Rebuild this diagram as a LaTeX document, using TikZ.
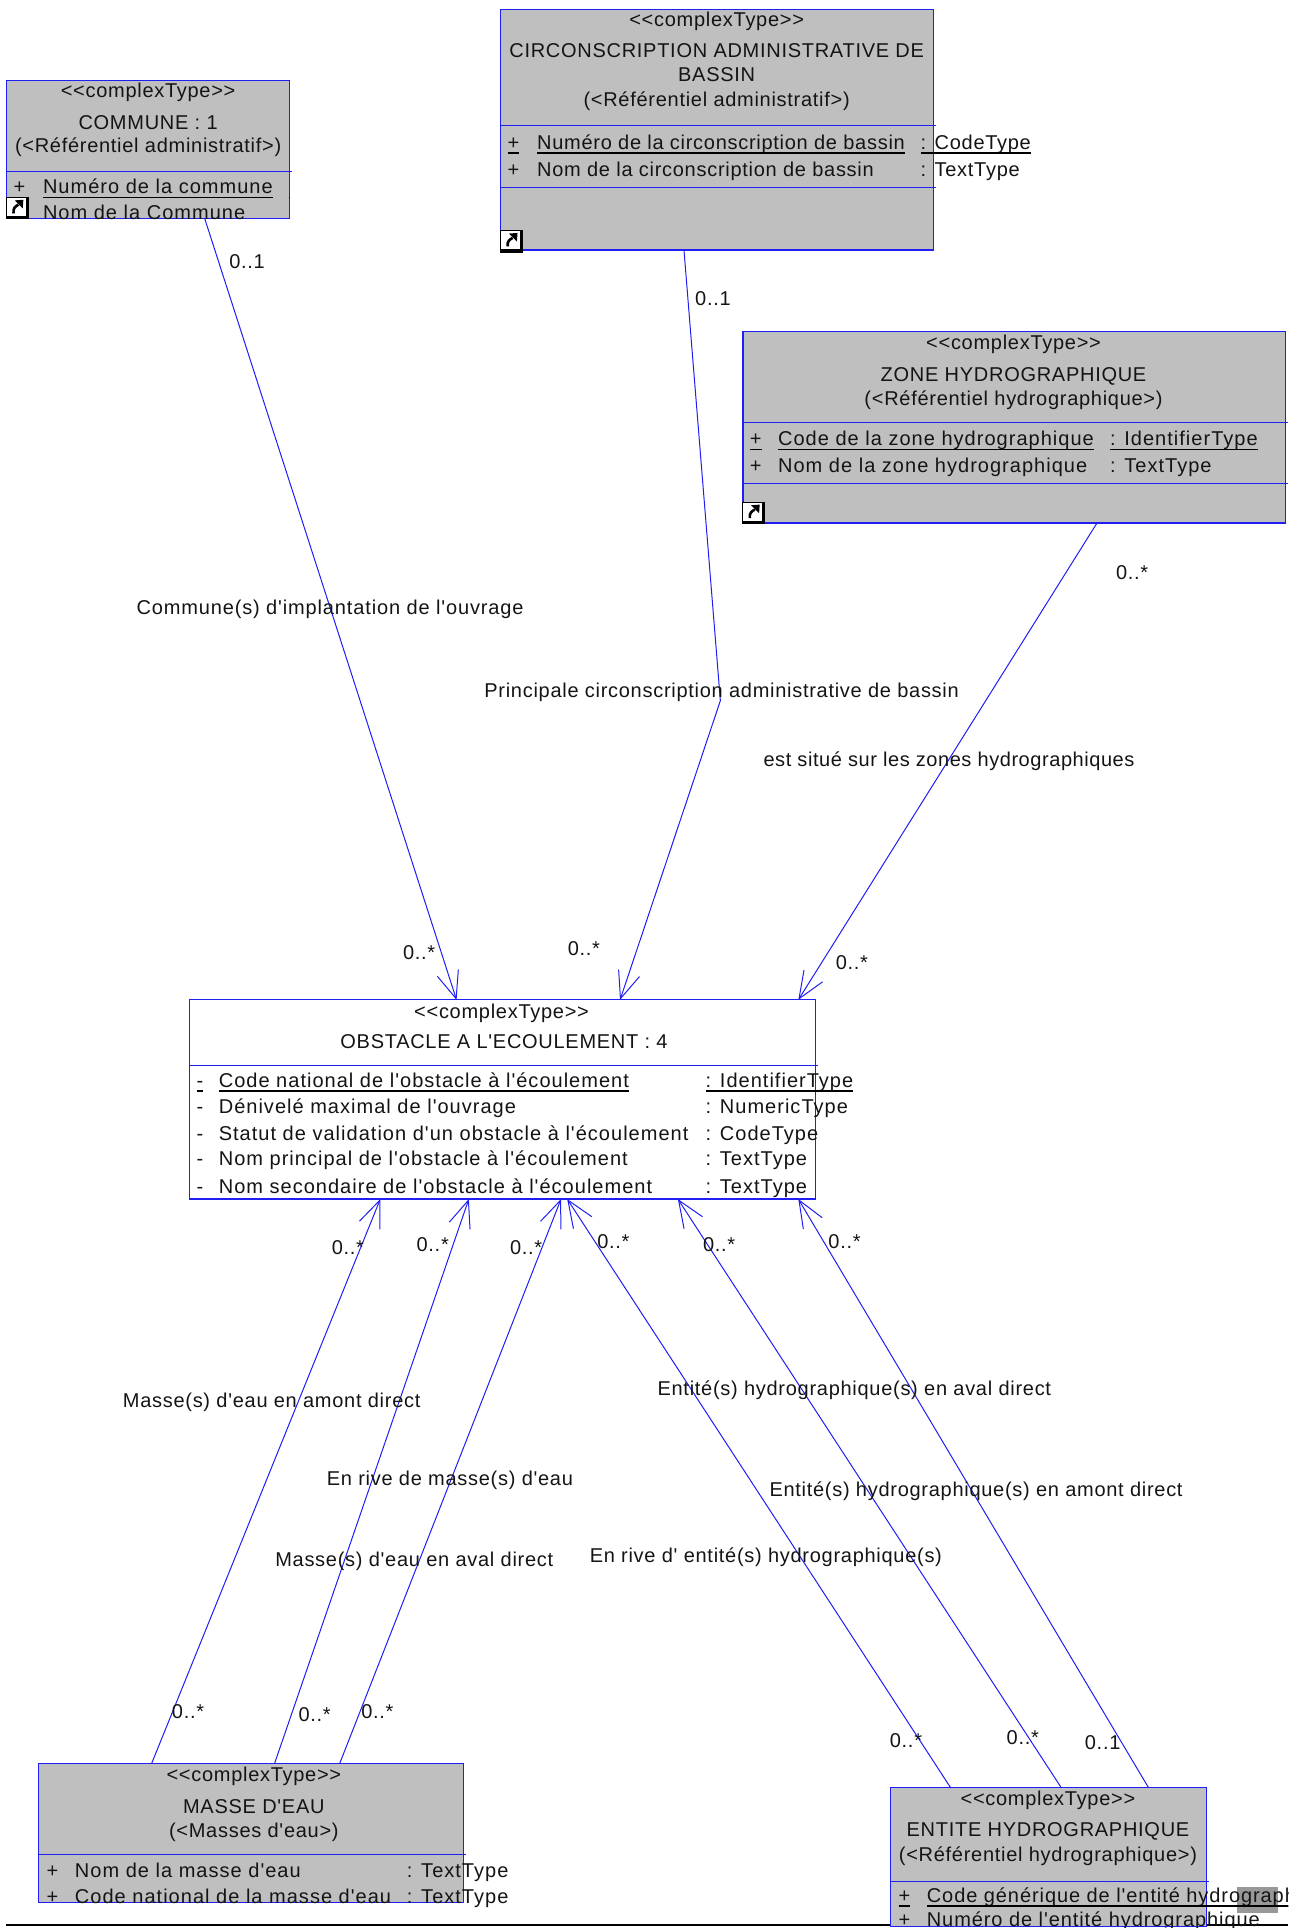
\documentclass[tikz,border=0pt]{standalone}
\usepackage{fontspec}
\setmainfont[LetterSpace=3.6,Ligatures=TeXOff]{Liberation Sans}
\newfontfamily\attrfont[LetterSpace=5.1,Ligatures=TeXOff]{Liberation Sans}
\newfontfamily\attrtight[LetterSpace=4.6,Ligatures=TeXOff]{Liberation Sans}
\newfontfamily\rolewide[LetterSpace=4.3,Ligatures=TeXOff]{Liberation Sans}
\newfontfamily\rolenarrow[LetterSpace=2.8,Ligatures=TeXOff]{Liberation Sans}
\usetikzlibrary{arrows.meta,calc}
\definecolor{umlblue}{RGB}{30,30,245}
\definecolor{umlgrey}{RGB}{191,191,191}
\definecolor{inktext}{RGB}{20,20,20}
\definecolor{patchgrey}{RGB}{152,152,152}
\tikzset{
  classbox/.style={draw=umlblue,line width=1.1pt,inner sep=0pt,outer sep=0pt,anchor=north west},
  greybox/.style={classbox,fill=umlgrey},
  whitebox/.style={classbox,fill=white},
  sepline/.style={draw=umlblue,line width=1pt},
  assoc/.style={draw=umlblue,line width=1pt},
  assocarrow/.style={assoc,-{Straight Barb[length=27pt,width=22pt,line width=1pt]}},
  txt/.style={font=\fontsize{20}{24}\selectfont,text=inktext,inner sep=0pt,outer sep=0pt},
  atxt/.style={font=\attrfont\fontsize{20}{24}\selectfont,text=inktext,inner sep=0pt,outer sep=0pt,anchor=base west},
  lbl/.style={txt,anchor=center,text height=14.5pt,text depth=4pt},
  ulline/.style={draw=black,line width=1.6pt},
}
\newcommand\attrline[8]{%
  \node[atxt] (#1p) at (#2,#5) {#6};
  \node[atxt] (#1n) at (#3,#5) {#7};
  \node[atxt] (#1t) at (#4,#5) {#8};}
\newcommand\uattrline[8]{%
  \attrline{#1}{#2}{#3}{#4}{#5}{#6}{#7}{#8}
  \draw[ulline] ($(#1p.base west)+(0,3)$) -- ($(#1p.base east)+(0,3)$);
  \draw[ulline] ($(#1n.base west)+(0,3)$) -- ($(#1n.base east)+(0,3)$);
  \draw[ulline] ($(#1t.base west)+(0,3)$) -- ($(#1t.base east)+(0,3)$);}
\newcommand\shortcutmark[2]{%
  \fill[black] (#1,#2) rectangle ++(18.5,18.5);
  \fill[white] (#1+.8,#2+1) rectangle ++(15,14.8);
  \draw[black,line width=2.6pt] (#1+6,#2+13.5) .. controls (#1+5.5,#2+9) and (#1+7.5,#2+8) .. (#1+10,#2+6.5);
  \fill[black] (#1+7,#2+3) -- (#1+14,#2+2.5) -- (#1+13.5,#2+9.5) -- cycle;}
\begin{document}
\begin{tikzpicture}[x=1.22925pt,y=-1.22925pt]
\useasboundingbox (0,0) rectangle (1060,1568.4);
% bottom page rule
\coordinate (ruleL) at (5,1566);
\coordinate (ruleR) at (1048,1566);
\draw[black,line width=1.3pt] (ruleL) -- (ruleR);
% boxes
\node[greybox,minimum width=282.7pt,minimum height=137.7pt] (commune) at (5.4,65.4) {};
\node[greybox,minimum width=432.7pt,minimum height=240.9pt] (circ) at (407.4,7.4) {};
\node[greybox,minimum width=542.1pt,minimum height=191.8pt] (zone) at (604.4,269.4) {};
\node[whitebox,minimum width=625.7pt,minimum height=199.1pt] (obstacle) at (154.4,813.4) {};
\node[greybox,minimum width=425.3pt,minimum height=138.9pt] (masse) at (31.4,1434.4) {};
\node[greybox,minimum width=315.9pt,minimum height=138.9pt] (entite) at (724.4,1454.4) {};
% separators
\draw[sepline] ($(commune.north west)+(0,74)$) -- ++(232,0);
\draw[sepline] ($(circ.north west)+(0,95)$) -- ++(354,0);
\draw[sepline] ($(circ.north west)+(0,145)$) -- ++(354,0);
\draw[sepline] ($(zone.north west)+(0,74)$) -- ++(443,0);
\draw[sepline] ($(zone.north west)+(0,124)$) -- ++(443,0);
\draw[sepline] ($(obstacle.north west)+(0,53)$) -- ++(511,0);
\draw[sepline] ($(masse.north west)+(0,74)$) -- ++(348,0);
\draw[sepline] ($(entite.north west)+(0,76)$) -- ++(259,0);
% connectors
\coordinate (bend) at (586,570);
\draw[assocarrow] ($(commune.south west)+(161,0)$) -- ($(obstacle.north west)+(217,0)$);
\draw[assocarrow] ($(circ.south west)+(149,0)$) -- (bend) -- ($(obstacle.north west)+(350,0)$);
\draw[assocarrow] ($(zone.south west)+(288,0)$) -- ($(obstacle.north west)+(495,0)$);
\draw[assocarrow] ($(masse.north west)+(92,0)$) -- ($(obstacle.south west)+(155,0)$);
\draw[assocarrow] ($(masse.north west)+(192,0)$) -- ($(obstacle.south west)+(227,0)$);
\draw[assocarrow] ($(masse.north west)+(245,0)$) -- ($(obstacle.south west)+(302,0)$);
\draw[assocarrow] ($(entite.north west)+(49,0)$) -- ($(obstacle.south west)+(307,0)$);
\draw[assocarrow] ($(entite.north west)+(139,0)$) -- ($(obstacle.south west)+(397,0)$);
\draw[assocarrow] ($(entite.north west)+(210,0)$) -- ($(obstacle.south west)+(495,0)$);
% COMMUNE
\node[txt,anchor=base] (c1) at (120.5,79.5) {<<complexType>>};
\node[txt,anchor=base] (c2) at (120.5,105) {COMMUNE : 1};
\node[txt,anchor=base] (c3) at (120.5,124) {(<Référentiel administratif>)};
\uattrline{ca}{11}{35}{235}{157.5}{+}{Numéro de la commune}{}
\attrline{cb}{11}{35}{235}{178.5}{+}{Nom de la Commune}{}
\shortcutmark{5}{160}
% CIRC
\node[txt,anchor=base] (d1) at (583,21.5) {<<complexType>>};
\node[txt,anchor=base] (d2) at (583,47) {CIRCONSCRIPTION ADMINISTRATIVE DE};
\node[txt,anchor=base] (d3) at (583,66.5) {BASSIN};
\node[txt,anchor=base] (d4) at (583,86.5) {(<Référentiel administratif>)};
\begin{scope}[atxt/.append style={font=\fontsize{20}{24}\selectfont}]
\uattrline{da}{413}{437}{749}{121.5}{+}{Numéro de la circonscription de bassin}{: CodeType}
\attrline{db}{413}{437}{749}{143.5}{+}{Nom de la circonscription de bassin}{: TextType}
\end{scope}
\shortcutmark{407}{187}
% ZONE
\node[txt,anchor=base] (z1) at (824.5,284.5) {<<complexType>>};
\node[txt,anchor=base] (z2) at (824.5,310) {ZONE HYDROGRAPHIQUE};
\node[txt,anchor=base] (z3) at (824.5,330) {(<Référentiel hydrographique>)};
\uattrline{za}{610}{633}{903}{362.5}{+}{Code de la zone hydrographique}{: IdentifierType}
\attrline{zb}{610}{633}{903}{384.5}{+}{Nom de la zone hydrographique}{: TextType}
\shortcutmark{604}{408}
% OBSTACLE
\node[txt,anchor=base] (o1) at (408,828.5) {<<complexType>>};
\node[txt,anchor=base] (o2) at (410,853) {OBSTACLE A L'ECOULEMENT : 4};
\uattrline{oa}{160}{178}{574}{884.5}{-}{Code national de l'obstacle à l'écoulement}{: IdentifierType}
\attrline{ob}{160}{178}{574}{905.5}{-}{Dénivelé maximal de l'ouvrage}{: NumericType}
\attrline{oc}{160}{178}{574}{927.5}{-}{Statut de validation d'un obstacle à l'écoulement}{: CodeType}
\attrline{od}{160}{178}{574}{948.5}{-}{Nom principal de l'obstacle à l'écoulement}{: TextType}
\attrline{oe}{160}{178}{574}{970.5}{-}{Nom secondaire de l'obstacle à l'écoulement}{: TextType}
% MASSE
\node[txt,anchor=base] (m1) at (206.5,1449.5) {<<complexType>>};
\node[txt,anchor=base] (m2) at (206.5,1475) {MASSE D'EAU};
\node[txt,anchor=base] (m3) at (206.5,1495) {(<Masses d'eau>)};
\attrline{ma}{38}{61}{331}{1527.5}{+}{Nom de la masse d'eau}{: TextType}
\attrline{mb}{38}{61}{331}{1548.5}{+}{Code national de la masse d'eau}{: TextType}
% ENTITE
\fill[patchgrey] (1006,1535) rectangle (1040,1556);
\node[txt,anchor=base] (e1) at (852.5,1468.5) {<<complexType>>};
\node[txt,anchor=base] (e2) at (852.5,1494) {ENTITE HYDROGRAPHIQUE};
\node[txt,anchor=base] (e3) at (852.5,1514) {(<Référentiel hydrographique>)};
\begin{scope}[atxt/.append style={font=\attrtight\fontsize{20}{24}\selectfont}]
\clip (700,1520) rectangle (1048,1568.4);
\uattrline{ea}{731}{754}{1040}{1547.5}{+}{Code générique de l'entité hydrographique}{}
\attrline{eb}{731}{754}{1040}{1567.5}{+}{Numéro de l'entité hydrographique}{}
\end{scope}
% multiplicities
\node[lbl] (l1) at (201,214) {0..1};
\node[lbl] (l2) at (580,244) {0..1};
\node[lbl] (l3) at (921,467) {0..*};
\node[lbl] (l4) at (341,776) {0..*};
\node[lbl] (l5) at (475,773) {0..*};
\node[lbl] (l6) at (693,784) {0..*};
\node[lbl] (l7) at (283,1016) {0..*};
\node[lbl] (l8) at (352,1014) {0..*};
\node[lbl] (l9) at (428,1016) {0..*};
\node[lbl] (l10) at (499,1011) {0..*};
\node[lbl] (l11) at (585,1014) {0..*};
\node[lbl] (l12) at (687,1011) {0..*};
\node[lbl] (l13) at (153,1394) {0..*};
\node[lbl] (l14) at (256,1396) {0..*};
\node[lbl] (l15) at (307,1394) {0..*};
\node[lbl] (l16) at (737,1417) {0..*};
\node[lbl] (l17) at (832,1415) {0..*};
\node[lbl] (l18) at (897,1419) {0..1};
% role names
\node[lbl,font=\rolewide\fontsize{20}{24}\selectfont] (r1) at (268.5,496) {Commune(s) d'implantation de l'ouvrage};
\node[lbl] (r2) at (587,563) {Principale circonscription administrative de bassin};
\node[lbl,font=\rolenarrow\fontsize{20}{24}\selectfont] (r3) at (772,619) {est situé sur les zones hydrographiques};
\node[lbl] (r4) at (221,1141) {Masse(s) d'eau en amont direct};
\node[lbl] (r5) at (366,1204) {En rive de masse(s) d'eau};
\node[lbl] (r6) at (337,1270) {Masse(s) d'eau en aval direct};
\node[lbl] (r7) at (695,1131) {Entité(s) hydrographique(s) en aval direct};
\node[lbl] (r8) at (794,1213) {Entité(s) hydrographique(s) en amont direct};
\node[lbl] (r9) at (623,1267) {En rive d' entité(s) hydrographique(s)};
\end{tikzpicture}
\end{document}
